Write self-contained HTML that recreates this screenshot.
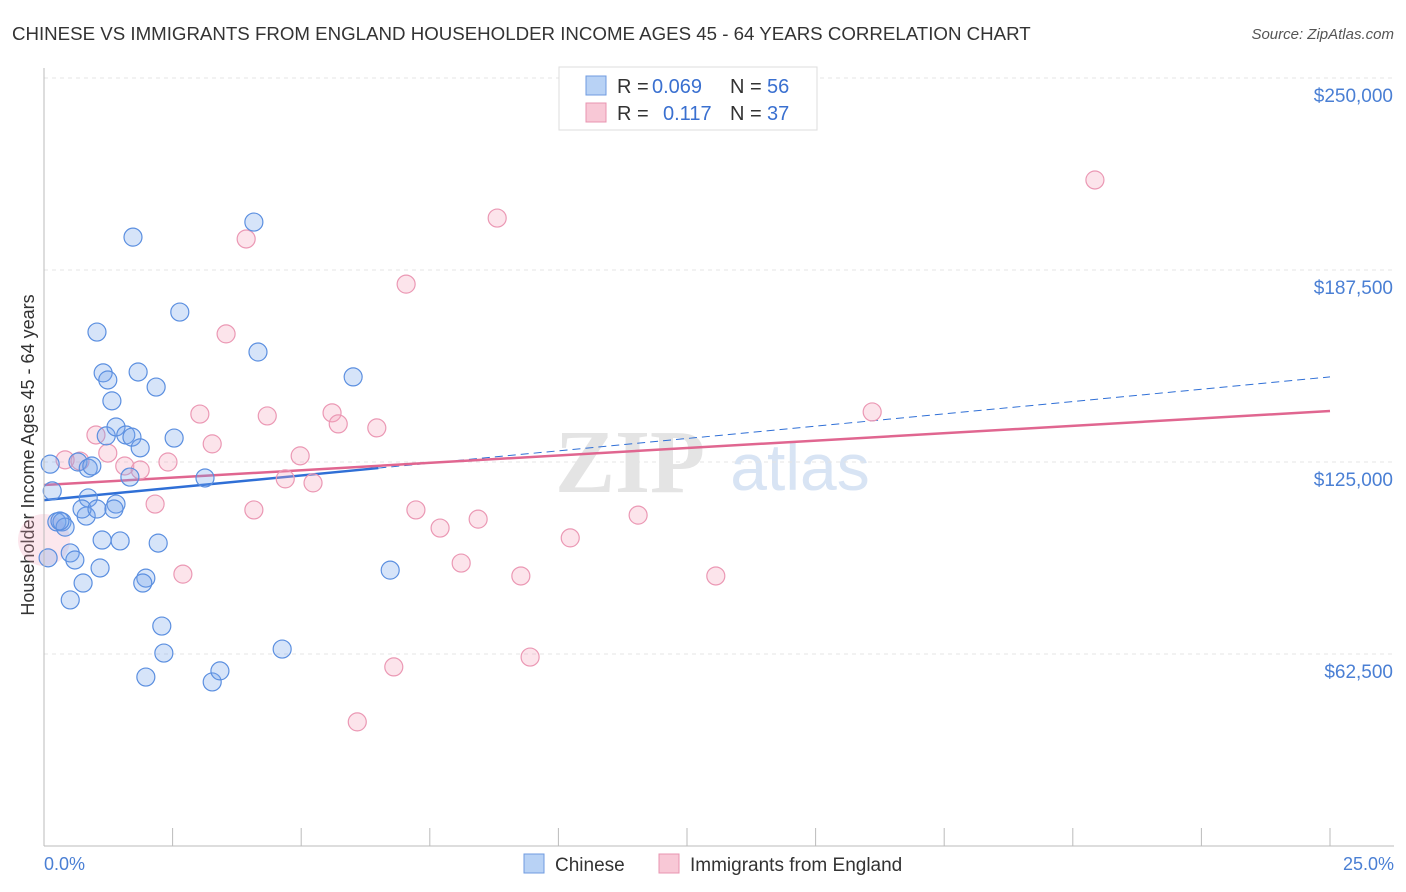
<!DOCTYPE html>
<html><head><meta charset="utf-8"><style>
body{margin:0;background:#fff;font-family:"Liberation Sans",sans-serif;}
#wrap{position:relative;width:1406px;height:892px;overflow:hidden}
</style></head><body>
<div id="wrap">
<svg id="svg" width="1406" height="892" xmlns="http://www.w3.org/2000/svg">
<text x="12" y="40" font-size="18.7" fill="#333">CHINESE VS IMMIGRANTS FROM ENGLAND HOUSEHOLDER INCOME AGES 45 - 64 YEARS CORRELATION CHART</text>
<text x="1394" y="39" font-size="15" fill="#555" text-anchor="end" font-style="italic">Source: ZipAtlas.com</text>
<text x="630" y="492" font-size="90" fill="#e4e4e4" font-family="Liberation Serif" font-weight="bold" text-anchor="middle">ZIP</text>
<text x="800" y="490" font-size="66" fill="#d8e4f4" text-anchor="middle">atlas</text>
<text transform="translate(34,455) rotate(-90)" font-size="18" fill="#333" text-anchor="middle">Householder Income Ages 45 - 64 years</text>
<g id="grid"></g><g id="ticks"></g><g id="lines"></g><g id="pts"></g>
<line x1="44" y1="68" x2="44" y2="846" stroke="#bbb"/>
<line x1="44" y1="846" x2="1394" y2="846" stroke="#bbb"/>
<text x="44" y="870" font-size="18" fill="#4a7fd4">0.0%</text>
<text x="1394" y="870" font-size="18" fill="#4a7fd4" text-anchor="end">25.0%</text>
<g font-size="20">
<rect x="559" y="67" width="258" height="63" fill="#fff" stroke="#ddd"/>
<rect x="586" y="76" width="20" height="19" fill="#b8d2f5" stroke="#6f9be0"/>
<rect x="586" y="103" width="20" height="19" fill="#f8c8d6" stroke="#e894b0"/>
<text x="617" y="93" fill="#333">R =</text>
<text x="652" y="93" fill="#3a70d0">0.069</text>
<text x="730" y="93" fill="#333">N =</text>
<text x="767" y="93" fill="#3a70d0">56</text>
<text x="617" y="120" fill="#333">R =</text>
<text x="663" y="120" fill="#3a70d0">0.117</text>
<text x="730" y="120" fill="#333">N =</text>
<text x="767" y="120" fill="#3a70d0">37</text>
</g>
<g>
<rect x="524" y="854" width="20" height="19" fill="#b8d2f5" stroke="#6f9be0"/>
<text x="555" y="871" font-size="19" fill="#333">Chinese</text>
<rect x="659" y="854" width="20" height="19" fill="#f8c8d6" stroke="#e894b0"/>
<text x="690" y="871" font-size="19" fill="#333">Immigrants from England</text>
</g>
</svg></div>
<script>
const yTicks=[62500,125000,187500,250000];
const yTickLabels=["$62,500","$125,000","$187,500","$250,000"];
const xTicks=[0,2.5,5,7.5,10,12.5,15,17.5,20,22.5,25];
const blueX=[0.12,0.16,0.08,0.25,0.35,0.41,0.31,0.51,0.60,0.51,0.76,0.66,0.86,0.93,0.86,0.82,0.74,1.03,1.09,1.13,1.03,1.15,1.24,1.32,1.21,1.40,1.59,1.71,1.87,1.40,1.48,1.67,1.73,1.83,2.18,2.53,2.22,1.98,1.92,2.29,2.33,1.98,2.64,3.13,3.27,3.42,4.08,4.16,4.63,6.01,6.73,1.36];
const blueY=[124300,115600,93800,105500,105500,103800,105800,95400,93100,80100,85600,125000,123000,123700,113300,107400,109700,109700,90500,99600,167300,154000,151700,144900,133500,136400,133800,133100,129600,111300,99300,120100,198200,154300,149400,132800,98600,87200,85600,71600,62800,55000,173800,119800,53400,57000,203100,160800,64100,152700,89800,109700];
const pinkX=[0.41,0.70,1.01,1.24,1.57,1.87,2.16,2.41,2.70,3.03,3.27,3.54,3.93,4.08,4.34,4.69,4.98,5.23,5.60,5.72,6.09,6.47,6.80,7.04,7.23,7.70,8.11,8.44,8.81,9.27,9.45,10.23,11.55,13.06,16.10,20.43];
const pinkY=[125700,125300,133800,127900,123700,122400,111300,125000,88500,140600,130900,166700,197600,109400,140000,119500,127000,118200,141000,137400,40400,136100,58300,182900,109400,103500,92100,106400,204400,87900,61500,100300,107700,87900,141300,216800];
const blueTrend=[112600,152700];
const pinkTrend=[117500,141600];
const NS='http://www.w3.org/2000/svg';
const X=v=>44+v/25*1286;
const Y=v=>846-v/62500*192;
function mk(t,a,p){const e=document.createElementNS(NS,t);for(const k in a)e.setAttribute(k,a[k]);document.getElementById(p).appendChild(e);return e;}
yTicks.forEach((t,i)=>{
 const g=mk('line',{x1:44,x2:1394,y1:Y(t),y2:Y(t),stroke:'#e4e4e4','stroke-dasharray':'4,4'},'grid');
 
 
 const l=mk('text',{x:1393,y:Y(t)+24,'font-size':19,fill:'#4a7fd4','text-anchor':'end'},'grid');
 l.textContent=yTickLabels[i];
 
 
});
xTicks.forEach(t=>{
 const e=mk('line',{x1:X(t),x2:X(t),y1:828,y2:846,stroke:'#bbb'},'ticks');
 
 
});
const bx=6.5;
let l1=mk('line',{x1:X(0),y1:Y(blueTrend[0]),x2:X(bx),y2:Y(blueTrend[0]+(blueTrend[1]-blueTrend[0])*bx/25),stroke:'#2f6fd6','stroke-width':2.5},'lines');


let l2=mk('line',{x1:X(bx),y1:Y(blueTrend[0]+(blueTrend[1]-blueTrend[0])*bx/25),x2:X(25),y2:Y(blueTrend[1]),stroke:'#2f6fd6','stroke-width':1,'stroke-dasharray':'8,5'},'lines');


let l3=mk('line',{x1:X(0),y1:Y(pinkTrend[0]),x2:X(25),y2:Y(pinkTrend[1]),stroke:'#e06690','stroke-width':2.5},'lines');


let big=mk('circle',{cx:X(0),cy:Y(99600),r:26,fill:'rgba(245,160,185,0.25)',stroke:'none'},'pts');


pinkX.forEach((v,i)=>{
 const c=mk('circle',{cx:X(v),cy:Y(pinkY[i]),r:9,fill:'rgba(245,165,190,0.3)',stroke:'#eb98b4','stroke-width':1.2},'pts');
 
 
});
blueX.forEach((v,i)=>{
 const c=mk('circle',{cx:X(v),cy:Y(blueY[i]),r:9,fill:'rgba(120,165,235,0.3)',stroke:'#5b8fe0','stroke-width':1.2},'pts');
 
 
});
</script>
</body></html>
